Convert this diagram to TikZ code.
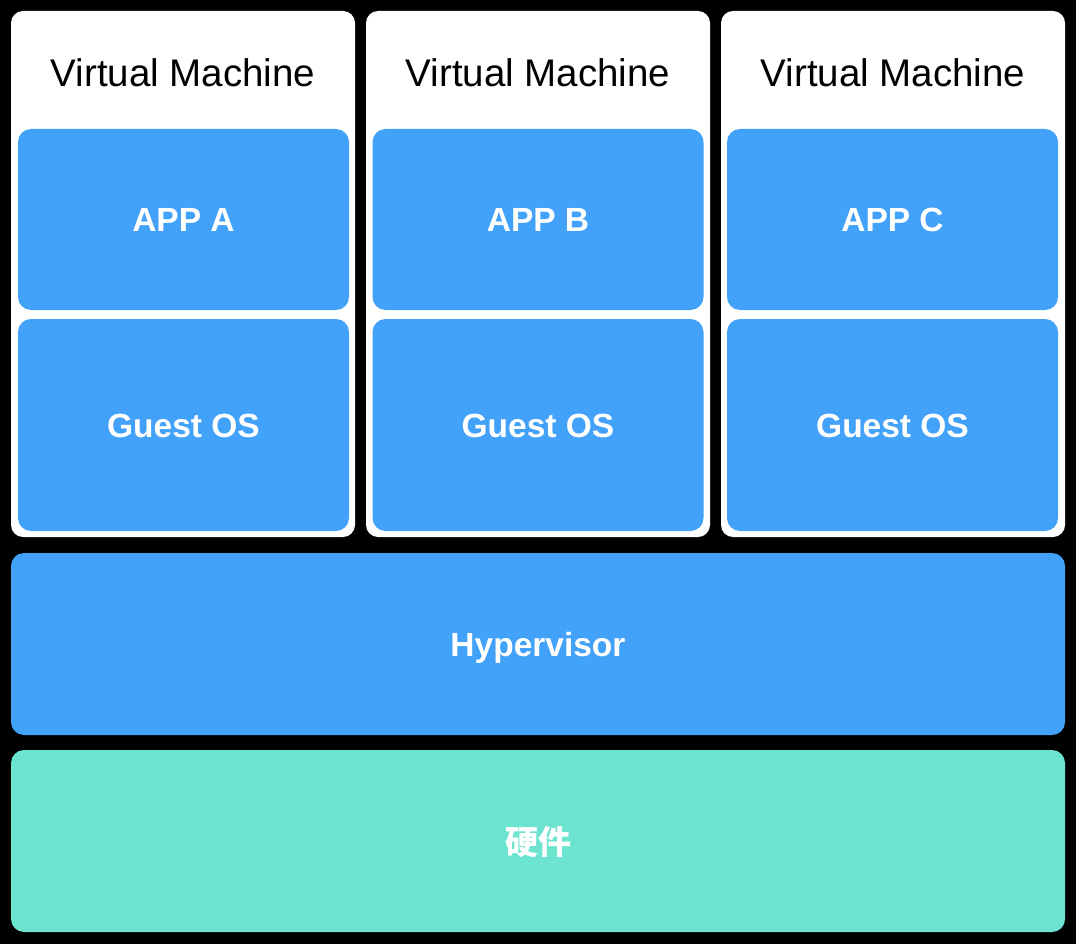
\documentclass[tikz,border=0pt]{standalone}
\usepackage{fontspec}
\setmainfont{Liberation Sans}
\newfontfamily\cjkfont{Noto Sans CJK SC}
\usepackage{tikz}

\definecolor{layerblue}{HTML}{42A1F8}
\definecolor{hwgreen}{HTML}{6DE4D0}

\begin{document}
\begin{tikzpicture}[x=1pt, y=-1pt,
    vmbox/.style={fill=white, rounded corners=12pt, inner sep=0pt, minimum width=344pt, minimum height=526pt},
    vmtitle/.style={inner sep=0pt, font=\fontsize{38.5}{40}\selectfont, text height=27.5pt, text depth=0pt},
    layer/.style={fill=layerblue, rounded corners=13pt, inner sep=0pt, text=white, font=\fontsize{33.5}{36}\selectfont\bfseries, text height=24pt, text depth=0pt},
    appbox/.style={layer, minimum width=331pt, minimum height=181pt},
    osbox/.style={layer, minimum width=331pt, minimum height=212pt}]
        \fill[black] (0, 0) rectangle (1076, 944);
        \useasboundingbox (0, 0) rectangle (1076, 944);

        % virtual machines
        \node[vmbox] (vm-a) at (183, 274) {};
        \node[vmbox] (vm-b) at (538, 274) {};
        \node[vmbox] (vm-c) at (893, 274) {};

        \node[vmtitle] (title-a) at (183, 72.5) {Virtual Machine};
        \node[vmtitle] (title-b) at (538, 72.5) {Virtual Machine};
        \node[vmtitle] (title-c) at (893, 72.5) {Virtual Machine};

        \node[appbox] (app-a) at (183.5, 219.5) {APP A};
        \node[appbox] (app-b) at (538, 219.5) {APP B};
        \node[appbox] (app-c) at (892.5, 219.5) {APP C};

        \node[osbox] (os-a) at (183.5, 425) {Guest OS};
        \node[osbox] (os-b) at (538, 425) {Guest OS};
        \node[osbox] (os-c) at (892.5, 425) {Guest OS};

        % lower layers
        \node[layer, minimum width=1054pt, minimum height=182pt] (hypervisor) at (538, 644) {Hypervisor};
        \node[layer, fill=hwgreen, minimum width=1054pt, minimum height=182pt, font=\fontsize{33}{36}\selectfont\cjkfont\bfseries, text height=27pt] (hardware) at (538, 841) {硬件};
\end{tikzpicture}
\end{document}
